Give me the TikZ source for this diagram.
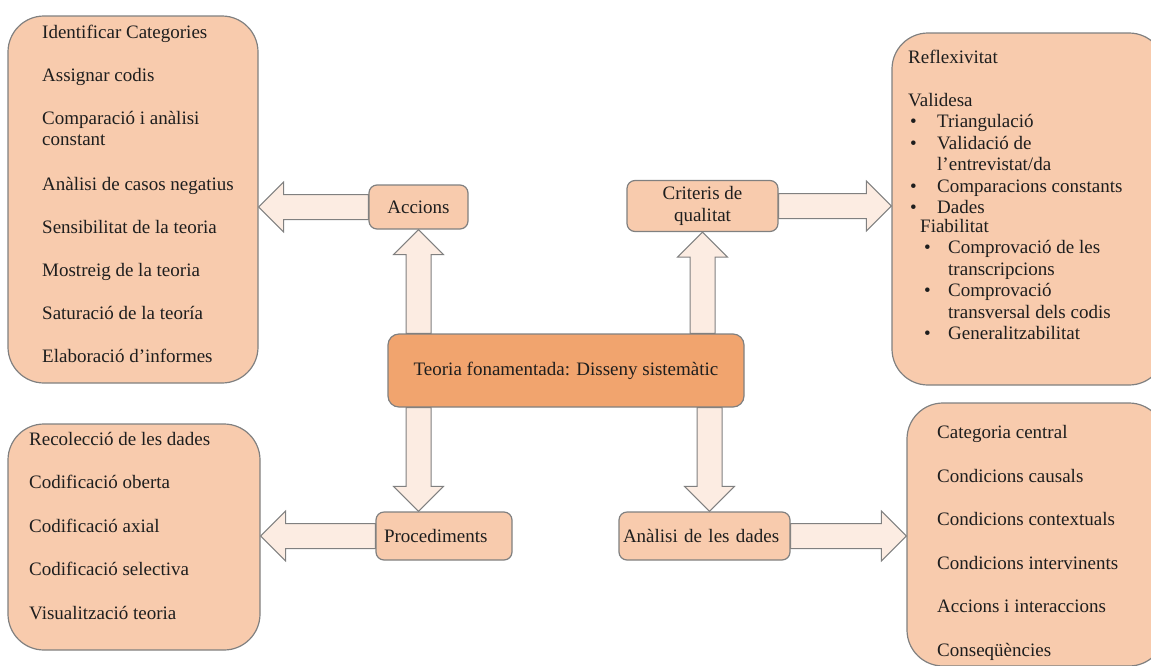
\documentclass[tikz,border=0pt]{standalone}
\usepackage{fontspec}
\setmainfont{Liberation Serif}
\usepackage{tikz}
\usetikzlibrary{positioning,calc,backgrounds}
\definecolor{figline}{RGB}{128,128,128}
\definecolor{figpeach}{RGB}{248,203,173}
\definecolor{figorange}{RGB}{241,164,110}
\definecolor{figpale}{RGB}{252,236,226}
\definecolor{figtext}{RGB}{30,30,30}
\tikzset{
  figfont/.style={font=\fontsize{19}{21.5}\selectfont, text=figtext},
  figbox/.style={draw=figline, line width=1.2pt, fill=figpeach, rounded corners=8pt, inner sep=0pt},
  figboxbig/.style={figbox, rounded corners=36pt},
  figboxmain/.style={figbox, fill=figorange, rounded corners=11pt},
  figlist/.style={align=left, inner sep=0pt, anchor=base west},
  figarrowfat/.style={draw=figline, line width=1pt, fill=figpale, line join=miter},
}
% block arrow from #1 (tail) to #2 (tip)
\newcommand{\figfatarrow}[2]{%
  \coordinate (fah) at ($(#2)!25pt!(#1)$);
  \draw[figarrowfat] ($(#1)!12.5pt!90:(#2)$) -- ($(fah)!12.5pt!90:(#2)$)
    -- ($(fah)!25pt!90:(#2)$) -- (#2) -- ($(fah)!25pt!-90:(#2)$)
    -- ($(fah)!12.5pt!-90:(#2)$) -- ($(#1)!12.5pt!-90:(#2)$) -- cycle;}
\newcommand{\figbul}[1]{\makebox[#1][l]{\hspace*{2pt}\textbullet}}

\begin{document}
\begin{tikzpicture}[x=1pt,y=-1pt,figfont]
		\useasboundingbox (0,0) rectangle (1151,665);
		\clip (0,0) rectangle (1151,665);

		% Central concept
		\node[figboxmain, minimum width=356pt, minimum height=73pt] (teoria) at (566,370.5)
		{Teoria fonamentada: Disseny sistemàtic};

		% Branch boxes
		\node[figbox, minimum width=99pt, minimum height=44pt] (accions) at (418.5,207) {Accions};
		\node[figbox, minimum width=151pt, minimum height=51pt, align=center] (criteris) at (702.5,206)
		{Criteris de\\qualitat};
		\node[figbox, minimum width=136pt, minimum height=48pt, text width=120pt, align=left] (procediments) at (444,536)
		{Procediments};
		\node[figbox, minimum width=171pt, minimum height=48pt, text width=163pt, align=left] (analisi) at (704.5,536)
		{Anàlisi de les dades};

		% Outer boxes
		\node[figboxbig, minimum width=250pt, minimum height=367pt] (accionsbox) at (133,199.5) {};
		\node[figboxbig, minimum width=273pt, minimum height=352pt] (criterisbox) at (1028.5,209) {};
		\node[figboxbig, minimum width=252pt, minimum height=226pt] (procedimentsbox) at (134,537) {};
		\node[figboxbig, minimum width=258pt, minimum height=263pt] (analisibox) at (1036,534.5) {};

		% Top left: accions (anchored at last baseline)
		\node[figlist] (accionslist) at (42,362)
		{Identificar Categories\\[21.5pt]
		Assignar codis\\[21.5pt]
		Comparació i anàlisi\\
		constant\\[23pt]
		Anàlisi de casos negatius\\[21.5pt]
		Sensibilitat de la teoria\\[21.5pt]
		Mostreig de la teoria\\[21.5pt]
		Saturació de la teoría\\[21.5pt]
		Elaboració d’informes};

		% Top right: criteris de qualitat
		\node[figlist] (criterislist) at (908,339.5)
		{Reflexivitat\\[21.5pt]
		Validesa\\
		\figbul{29pt}Triangulació\\
		\figbul{29pt}Validació de\\
		\hspace*{29pt}l’entrevistat/da\\
		\figbul{29pt}Comparacions constants\\
		\figbul{29pt}Dades\\[-3pt]
		\hspace*{12pt}Fiabilitat\\
		\hspace*{14pt}\figbul{26pt}Comprovació de les\\
		\hspace*{40pt}transcripcions\\
		\hspace*{14pt}\figbul{26pt}Comprovació\\
		\hspace*{40pt}transversal dels codis\\
		\hspace*{14pt}\figbul{26pt}Generalitzabilitat};

		% Bottom left: procediments
		\node[figlist] (procedimentslist) at (29,619)
		{Recolecció de les dades\\[22pt]
		Codificació oberta\\[22pt]
		Codificació axial\\[22pt]
		Codificació selectiva\\[22pt]
		Visualització teoria};

		% Bottom right: analisi de les dades
		\node[figlist] (analisilist) at (937,656)
		{Categoria central\\[22pt]
		Condicions causals\\[22pt]
		Condicions contextuals\\[22pt]
		Condicions intervinents\\[22pt]
		Accions i interaccions\\[22pt]
		Conseqüències};

		% Block arrows
		\begin{scope}[on background layer]
			\coordinate (accionstip) at (accionsbox.east |- accions.west);
			\coordinate (criteristip) at (criteris.east -| criterisbox.west);
			\coordinate (procedimentstip) at (procedimentsbox.east |- procediments.west);
			\coordinate (analisitip) at (analisi.east -| analisibox.west);
			\coordinate (upleft) at (accions.south |- teoria.north);
			\coordinate (upright) at (criteris.south |- teoria.north);
			\coordinate (downleft) at (accions.south |- teoria.south);
			\coordinate (downlefttip) at (accions.south |- procediments.north);
			\coordinate (downright) at ($(criteris.south |- teoria.south)+(7,0)$);
			\coordinate (downrighttip) at ($(criteris.south |- analisi.north)+(7,0)$);
			\figfatarrow{accions.west}{accionstip}
			\figfatarrow{criteris.east}{criteristip}
			\figfatarrow{procediments.west}{procedimentstip}
			\figfatarrow{analisi.east}{analisitip}
			\figfatarrow{upleft}{accions.south}
			\figfatarrow{upright}{criteris.south}
			\figfatarrow{downleft}{downlefttip}
			\figfatarrow{downright}{downrighttip}
		\end{scope}
	\end{tikzpicture}
\end{document}
